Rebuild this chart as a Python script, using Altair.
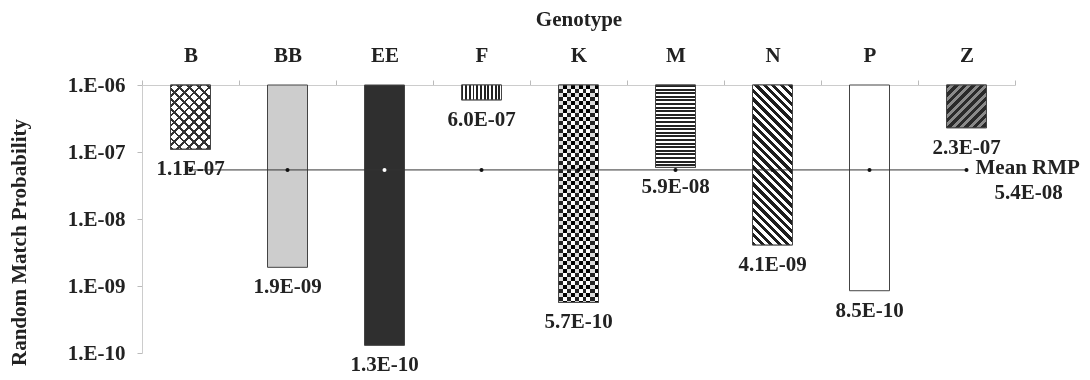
import math
import altair as alt
import pandas as pd

# ---------------- data ----------------
genotypes = ["B", "BB", "EE", "F", "K", "M", "N", "P", "Z"]
rmp = [1.1e-7, 1.9e-9, 1.3e-10, 6.0e-7, 5.7e-10, 5.9e-8, 4.1e-9, 8.5e-10, 2.3e-7]
rmp_labels = ["1.1E-07", "1.9E-09", "1.3E-10", "6.0E-07", "5.7E-10",
              "5.9E-08", "4.1E-09", "8.5E-10", "2.3E-07"]
bar_top = 1e-6
mean_rmp = 5.4e-8
mean_label = "5.4E-08"
mean_name = "Mean RMP"
y_ticks = [1e-10, 1e-9, 1e-8, 1e-7, 1e-6]
y_domain = [1e-10, 1e-6]

# ---------------- layout / style ----------------
PLOT_W, PLOT_H = 873, 268
BAR_W = 40
FONT = "Liberation Serif"
FS = 21
INK = "#222222"

df = pd.DataFrame({"Genotype": genotypes, "RMP": rmp, "top": bar_top,
                   "label": rmp_labels, "mean": mean_rmp})


def x_enc():
    return alt.X("Genotype:N",
                 scale=alt.Scale(domain=genotypes, paddingInner=0, paddingOuter=0),
                 axis=alt.Axis(orient="top", title="Genotype", labelAngle=0,
                               labelFont=FONT, labelFontSize=FS, labelFontWeight="bold",
                               labelColor=INK, labelPadding=15,
                               titleFont=FONT, titleFontSize=FS, titleFontWeight="bold",
                               titleColor=INK, titlePadding=15,
                               domainColor="#cccccc", tickColor="#bbbbbb", tickSize=5,
                               tickBand="extent", grid=False))


def y_enc(field):
    return alt.Y(f"{field}:Q",
                 scale=alt.Scale(type="log", domain=y_domain),
                 axis=alt.Axis(values=y_ticks, title="Random Match Probability",
                               labelExpr="'1.E-' + format(round(-log(datum.value)/LN10), '02')",
                               labelFont=FONT, labelFontSize=FS, labelFontWeight="bold",
                               labelColor=INK, labelPadding=12,
                               titleFont=FONT, titleFontSize=FS, titleFontWeight="bold",
                               titleColor=INK, titlePadding=38, titleY=157,
                               domainColor="#cccccc", tickColor="#bbbbbb", tickSize=5,
                               grid=False))


def bar_px_height(v):
    lo, hi = math.log10(y_domain[0]), math.log10(y_domain[1])
    return (math.log10(bar_top) - math.log10(v)) / (hi - lo) * PLOT_H


def stripes(kind, W, H, period, duty, c_on, c_off):
    if kind == "v":
        span = W
        x1, y1, x2, y2 = 0, 0, 1, 0
    elif kind == "h":
        span = H
        x1, y1, x2, y2 = 0, 0, 0, 1
    else:
        c = (W + H) / (W * W + H * H)
        span = (W + H) / math.sqrt(2)
        if kind == "back":   # "\" stripes
            x1, y1, x2, y2 = 0, 1, c * W, 1 - c * H
        else:                # "/" stripes
            x1, y1, x2, y2 = 0, 0, c * W, c * H
    n = span / period
    stops = []
    i = 0
    while i / n < 1:
        a = i / n
        b = min((i + duty) / n, 1)
        e = min((i + 1) / n, 1)
        stops += [alt.GradientStop(offset=a, color=c_on), alt.GradientStop(offset=b, color=c_on)]
        if b < 1:
            stops += [alt.GradientStop(offset=b, color=c_off), alt.GradientStop(offset=e, color=c_off)]
        i += 1
    return alt.LinearGradient(gradient="linear", stops=stops, x1=x1, y1=y1, x2=x2, y2=y2)


CLEAR = "rgba(0,0,0,0)"
# base fill and overlay pattern layers: (kind, period, duty, on, off, blend)
styles = {
    "B": ("#ffffff", [("back", 7, 0.28, "#333333", CLEAR, None),
                      ("fwd", 7, 0.28, "#333333", CLEAR, None)]),
    "BB": ("#cdcdcd", []),
    "EE": ("#2f2f2f", []),
    "F": ("#ffffff", [("v", 3.7, 0.5, "#222222", "#ffffff", None)]),
    "K": ("#ffffff", [("v", 8, 0.5, "#222222", "#ffffff", None),
                      ("h", 8, 0.5, "#ffffff", CLEAR, "difference")]),
    "M": ("#ffffff", [("h", 3.6, 0.55, "#222222", "#ffffff", None)]),
    "N": ("#ffffff", [("back", 6, 0.5, "#1e1e1e", "#ffffff", None)]),
    "P": ("#ffffff", []),
    "Z": ("#3a3a3a", [("fwd", 6, 0.5, "#2a2a2a", "#8a8a8a", None)]),
}

layers = []
for g, v in zip(genotypes, rmp):
    base_fill, pats = styles[g]
    sel = alt.Chart(df).transform_filter(alt.datum.Genotype == g)
    layers.append(sel.mark_bar(width=BAR_W, fill=base_fill, stroke="#444444", strokeWidth=1)
                  .encode(x=x_enc(), y=y_enc("RMP"), y2="top:Q"))
    H = bar_px_height(v)
    for kind, period, duty, on, off, blend in pats:
        kw = dict(width=BAR_W, fill=stripes(kind, BAR_W, H, period, duty, on, off), strokeWidth=0)
        if blend:
            kw["blend"] = blend
        layers.append(sel.mark_bar(**kw).encode(x=x_enc(), y=y_enc("RMP"), y2="top:Q"))
    if pats:
        layers.append(sel.mark_bar(width=BAR_W, fillOpacity=0, stroke="#444444", strokeWidth=1)
                      .encode(x=x_enc(), y=y_enc("RMP"), y2="top:Q"))

base = alt.Chart(df)
mean_line = base.mark_line(color="#333333", strokeWidth=1).encode(x=x_enc(), y=y_enc("mean"))
mean_pts = base.mark_point(filled=True, size=16, opacity=1, shape="circle").encode(
    x=x_enc(), y=y_enc("mean"),
    color=alt.condition(alt.datum.Genotype == "EE", alt.value("#ffffff"), alt.value("#111111")))

value_text = base.mark_text(font=FONT, fontSize=FS, fontWeight="bold", color=INK,
                            baseline="middle", dy=20).encode(
    x=x_enc(), y=y_enc("RMP"), text="label:N")

last = alt.Chart(df).transform_filter(alt.datum.Genotype == genotypes[-1])
mean_name_text = last.mark_text(font=FONT, fontSize=FS, fontWeight="bold", color=INK,
                                align="left", baseline="middle", dx=9, dy=-2).encode(
    x=x_enc(), y=y_enc("mean"), text=alt.value(mean_name))
mean_val_text = last.mark_text(font=FONT, fontSize=FS, fontWeight="bold", color=INK,
                               align="center", baseline="middle", dx=62, dy=23).encode(
    x=x_enc(), y=y_enc("mean"), text=alt.value(mean_label))

chart = alt.layer(*layers, mean_line, mean_pts, value_text, mean_name_text, mean_val_text).properties(
    width=PLOT_W, height=PLOT_H,
    background="white",
    autosize=alt.AutoSizeParams(type="none"),
    padding={"left": 142, "top": 85, "right": 75, "bottom": 27},
).configure_view(stroke=None)

chart.save("out.html", embed_options={"renderer": "svg", "actions": False})
